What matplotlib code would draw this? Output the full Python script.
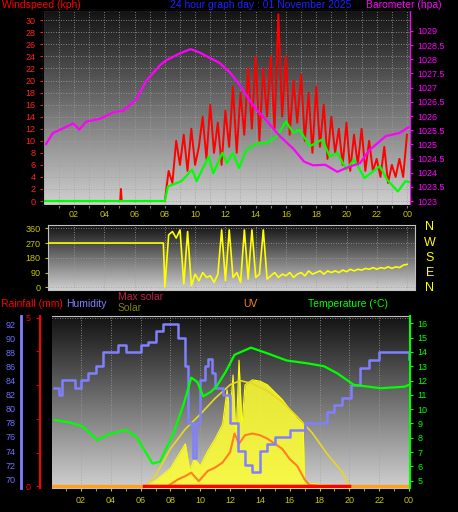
import numpy as np
import matplotlib
matplotlib.use("Agg")
import matplotlib.pyplot as plt

plt.rcParams['font.family'] = ['Liberation Sans', 'DejaVu Sans']

W, H = 458, 512

# ---- top panel: wind and barometer ----
gust_hours = [0, 5.05, 5.1, 5.15, 7.95] + list(np.arange(8.0, 24.01, 0.25))
gust_vals = [0, 0, 2, 0, 0,
             0, 5, 3, 10, 6, 11, 5, 12, 6, 9, 14, 7, 16, 8, 13, 6,
             15, 9, 19, 8, 18, 11, 22, 12, 24, 10, 22, 14, 24, 12, 31, 14,
             24, 11, 20, 13, 21, 10, 18, 8, 19, 9, 16, 7, 14, 8, 12, 6,
             13, 5, 11, 6, 12, 5, 10, 5, 7, 4, 9, 3, 6, 4, 7, 4, 11]
avg_hours = [0, 8.0, 8.2, 9.1, 9.8, 10.1, 10.9, 11.2, 11.8, 12.1, 12.5, 12.9, 13.4, 14.1,
             14.7, 15.4, 16.0, 16.5, 16.9, 17.6, 18.4, 18.9, 19.4, 20.0, 20.5, 21.2,
             22.2, 22.7, 23.4, 23.9, 24.2]
avg_vals = [0, 0, 2.4, 3.3, 5.2, 3.3, 7.4, 4.6, 8.0, 6.3, 8.0, 5.5, 8.5, 9.6,
            9.6, 10.7, 13.2, 11.3, 11.8, 9.1, 10.2, 7.4, 8.0, 5.2, 6.9, 3.8,
            5.8, 3.5, 1.6, 3.3, 3.1]
baro_hours = [0.15, 0.6, 1.3, 1.95, 2.35, 2.8, 3.7, 4.6, 5.25, 6.1, 6.8, 7.7, 8.1, 9.0,
              9.7, 10.3, 11.0, 11.6, 12.3, 12.95, 13.85, 14.7, 15.6, 16.5, 17.2, 17.8,
              18.6, 19.4, 20.0, 20.9, 21.5, 22.6, 23.5, 24.1]
baro_vals = [1025.01, 1025.4, 1025.57, 1025.74, 1025.52, 1025.8, 1025.9, 1026.13, 1026.19,
             1026.58, 1027.26, 1027.8, 1027.97, 1028.21, 1028.36, 1028.24, 1028.04, 1027.88,
             1027.54, 1027.09, 1026.36, 1025.85, 1025.29, 1024.84, 1024.39, 1024.26,
             1024.28, 1024.03, 1024.17, 1024.34, 1024.79, 1025.29, 1025.4, 1025.6]

# ---- wind direction ----
dir_hours = [0, 7.9] + list(np.arange(8.0, 24.01, 0.25))
dir_vals = [270, 270,
            0, 320, 340, 300, 350, 20, 340, 10, 80, 40, 90, 60, 70, 30, 80, 350,
            40, 350, 60, 90, 30, 350, 50, 350, 60, 80, 350, 50, 70, 90, 60, 80,
            70, 90, 60, 80, 90, 70, 100, 80, 90, 100, 80, 100, 90, 100, 90, 105,
            95, 110, 100, 110, 105, 115, 110, 120, 110, 120, 115, 125, 115, 125, 120, 135, 140]

# ---- bottom panel ----
hum_hours = [0.2, 0.5, 0.75, 1.5, 1.6, 2, 2.5, 3, 3.5, 4.5, 5, 5.5, 6, 6.5, 7, 7.5, 8, 8.5,
             9, 9.2, 9.5, 9.7, 10, 10.3, 10.5, 10.8, 11, 11.5, 12, 12.5, 13, 13.5, 14, 14.5,
             15, 15.5, 16, 16.5, 17, 17.7, 18.5, 19, 19.5, 20.1, 20.7, 21.3, 22, 23.6, 24]
hum_vals = [83, 82, 84, 84, 83, 84, 85, 86, 88, 89, 88, 88, 89, 89.5, 91, 92, 92, 90,
            86, 78, 73, 78, 84, 86, 87, 85, 83, 82, 78, 74, 72, 71, 74, 75,
            76, 76, 77, 77, 78, 78, 79.5, 80.5, 81.5, 83.4, 85.7, 86.9, 88, 88, 87]
temp_hours = [0.25, 1.2, 2.1, 3.1, 3.9, 5.0, 5.7, 6.8, 7.3, 8.2, 8.9, 9.4, 9.8, 10.2, 10.7,
              11.1, 11.7, 12.3, 13.4, 14.5, 15.8, 17.2, 18.3, 19.2, 20.3, 22.1, 23.7, 24.0]
temp_vals = [9.24, 9.08, 8.8, 7.84, 8.26, 8.54, 8.08, 6.2, 6.33, 8.3, 10.4, 12.2, 11.9, 10.9,
             11.2, 11.6, 12.6, 13.8, 14.3, 13.9, 13.4, 13.2, 13.0, 12.5, 11.7, 11.46, 11.57, 11.7]
maxsolar_hours = [6.2, 7, 8, 9, 10, 11, 12, 12.7, 13.5, 14.5, 15.5, 16.5, 17.5, 18.5, 19.5, 20.1]
maxsolar_vals = [0, 50, 160, 240, 300, 365, 420, 437, 425, 395, 350, 290, 225, 140, 66, 0]
solar_hours = [6.2, 7, 8, 8.5, 9, 9.3, 9.6, 10, 10.5, 11, 11.5, 11.8, 12, 12.2, 12.4, 12.6,
               12.8, 13, 13.5, 14, 14.5, 15, 15.5, 16, 16.5, 16.9, 17.0, 18, 20, 20.2]
solar_vals = [0, 30, 80, 130, 180, 70, 120, 90, 150, 200, 260, 400, 300, 460, 200, 520,
              250, 420, 440, 435, 420, 390, 360, 320, 280, 260, 20, 15, 5, 0]
uv_hours = [7.8, 8.5, 9, 9.4, 9.9, 10.5, 11, 11.5, 12, 12.3, 12.6, 13, 13.5, 14, 14.5, 15,
            15.5, 16, 16.5, 17, 17.3, 18]
uv_vals = [0, 0.4, 0.6, 0.8, 0.3, 0.9, 1.1, 1.4, 2.0, 3.1, 2.5, 3.0, 3.1, 3.0, 2.8, 2.5,
           2.2, 1.6, 1.2, 0.4, 0.1, 0]
rain_hours = [0, 24]
rain_vals = [0, 0]

hour_ticks = list(range(2, 25, 2))
hour_labels = ['%02d' % (h % 24) for h in hour_ticks]
odd_hours = list(range(1, 24, 2))
FS = 7.5


def rect(l, t, r, b):
    return [l / W, 1 - b / H, (r - l) / W, (b - t) / H]


def background(ax):
    grad = np.linspace(0, 1, 256).reshape(-1, 1)
    ax.imshow(grad, aspect='auto', cmap='gray', vmin=-0.1, vmax=1.25,
              extent=[0, 1, 0, 1], transform=ax.transAxes, origin='upper', zorder=0)
    ax.grid(True, color='#a0a0a0', linestyle=(0, (1, 2)), linewidth=0.6)
    ax.set_axisbelow(True)


fig = plt.figure(figsize=(W / 100, H / 100), dpi=100, facecolor='black')

# top panel
ax = fig.add_axes(rect(43, 10, 410, 205))
background(ax)
ax.set_xlim(-0.05, 24.2)
ax.set_ylim(-0.66, 31.7)
ax.plot(gust_hours, gust_vals, color='#ff0000', lw=1.4, zorder=3)
ax.plot(avg_hours, avg_vals, color='#00ff00', lw=1.6, zorder=4)
ax.set_yticks(range(0, 31, 2))
ax.set_xticks(hour_ticks + odd_hours)
ax.set_xticklabels([])
ax.tick_params(axis='y', colors='#ff2020', labelsize=6.5, length=2)
ax.tick_params(axis='x', colors='#808080', length=2)
for s in ax.spines.values():
    s.set_color('#c0c0c0')
axb = ax.twinx()
axb.set_ylim(1022.86, 1029.74)
axb.plot(baro_hours, baro_vals, color='#ff00ff', lw=1.6, zorder=5)
axb.set_yticks(np.arange(1023, 1029.01, 0.5))
axb.set_yticklabels(['%g' % v for v in np.arange(1023, 1029.01, 0.5)])
axb.tick_params(axis='y', colors='#ff00ff', labelsize=6.5, length=2)
axb.spines['right'].set_color('#ff00ff')

fig.text(2 / W, 1 - 5 / H, 'Windspeed (kph)', color='#ff0000', fontsize=FS, va='center')
fig.text(170 / W, 1 - 5 / H, '24 hour graph day : 01 November 2025', color='#2020ff',
         fontsize=FS, va='center')
fig.text(366 / W, 1 - 5 / H, 'Barometer (hpa)', color='#ff00ff', fontsize=FS, va='center')

# wind direction panel
axd = fig.add_axes(rect(48, 225, 415, 290))
background(axd)
axd.set_xlim(0.28, 24.52)
axd.set_ylim(-16.5, 380)
axd.plot(dir_hours, dir_vals, color='#ffff00', lw=1.2, zorder=3)
axd.set_yticks([0, 90, 180, 270, 360])
axd.set_xticks(hour_ticks)
axd.set_xticklabels(hour_labels)
axd.xaxis.tick_top()
axd.tick_params(axis='x', colors='#c8c800', labelsize=6.5, length=0, pad=4)
axd.tick_params(axis='y', colors='#c8c800', labelsize=6.5, length=2)
for s in axd.spines.values():
    s.set_color('#c0c0c0')
for lab, y in zip(['N', 'W', 'S', 'E', 'N'], [227, 243, 258, 273, 288]):
    fig.text(430 / W, 1 - y / H, lab, color='#ffff00', fontsize=9, ha='center', va='center')

# bottom panel
axr = fig.add_axes(rect(52, 316, 410, 488))
background(axr)
axr.set_xlim(0.055, 24.07)
axr.set_ylim(-0.05, 5.05)
axr.set_yticks([0, 5])
axr.set_yticks([1, 2, 3, 4], minor=True)
axr.set_xticks(hour_ticks)
axr.set_xticklabels(hour_labels)
axr.set_xticks(odd_hours, minor=True)
axr.tick_params(axis='x', which='both', colors='#c8c800', labelsize=6.5, length=2)
axr.tick_params(axis='y', which='both', colors='#ff0000', labelsize=6.5, length=3)
axr.spines['left'].set_position(('outward', 9))
axr.spines['left'].set_color('#ff0000')
axr.spines['left'].set_linewidth(1.5)
axr.spines['bottom'].set_color('#c0c0c0')
axr.spines['top'].set_color('#c0c0c0')
axr.spines['right'].set_visible(False)

axs = axr.twinx()
axs.set_ylim(0, 700)
axs.fill_between(solar_hours, solar_vals, color='#ffff30', alpha=0.85, lw=0, zorder=2)
axs.plot(solar_hours, solar_vals, color='#ffff00', lw=0.8)
axs.plot(maxsolar_hours, maxsolar_vals, color='#e8d820', lw=1.2)
axs.axis('off')

axu = axr.twinx()
axu.set_ylim(-0.1, 10)
axu.plot(uv_hours, uv_vals, color='#ff8020', lw=1.5)
axu.plot(rain_hours, rain_vals, color='#ffa020', lw=2.5)
axu.plot([6.2, 20.0], [0, 0], color='#ff0000', lw=2.5)
axu.axis('off')

axh = axr.twinx()
axh.set_ylim(68.76, 93.14)
axh.step(hum_hours, hum_vals, where='post', color='#8080ff', lw=1.8)
axh.yaxis.tick_left()
axh.yaxis.set_label_position('left')
axh.set_yticks(range(70, 93, 2))
axh.tick_params(axis='y', colors='#7070ff', labelsize=6.5, length=0, pad=4)
for k in ['top', 'bottom', 'right']:
    axh.spines[k].set_visible(False)
axh.spines['left'].set_visible(True)
axh.spines['left'].set_position(('outward', 22))
axh.spines['left'].set_color('#8080ff')
axh.spines['left'].set_linewidth(2)

axt = axr.twinx()
axt.set_ylim(4.49, 16.51)
axt.plot(temp_hours, temp_vals, color='#00ff00', lw=1.6)
axt.set_yticks(range(5, 17))
axt.tick_params(axis='y', colors='#00ff00', labelsize=6.5, length=2)
for k in ['top', 'bottom', 'left']:
    axt.spines[k].set_visible(False)
axt.spines['right'].set_color('#00ff00')
axt.spines['right'].set_linewidth(1.5)

fig.text(1 / W, 1 - 304 / H, 'Rainfall (mm)', color='#ff0000', fontsize=FS, va='center')
fig.text(66 / W, 1 - 304 / H, 'Humidity', color='#8080ff', fontsize=FS, va='center')
fig.text(118 / W, 1 - 297 / H, 'Max solar', color='#c0204a', fontsize=FS, va='center')
fig.text(118 / W, 1 - 308 / H, 'Solar', color='#808000', fontsize=FS, va='center')
fig.text(243 / W, 1 - 304 / H, 'UV', color='#ff8020', fontsize=FS, va='center')
fig.text(308 / W, 1 - 304 / H, 'Temperature (°C)', color='#00ff00', fontsize=FS, va='center')

fig.savefig('out.png', dpi=100, facecolor='black')
